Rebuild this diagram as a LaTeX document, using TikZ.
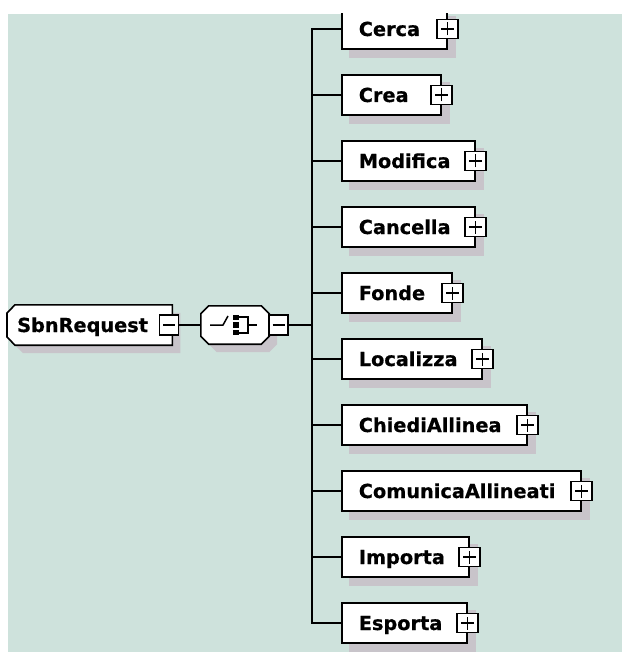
\documentclass[tikz,border=0pt]{standalone}
\usepackage{fontspec}
\setmainfont{DejaVu Sans}[BoldFeatures={FakeBold=0.6}]
\usetikzlibrary{calc}
\definecolor{canvasbg}{HTML}{CEE2DC}
\definecolor{shadegray}{HTML}{C8C4CA}
\pgfdeclarelayer{back}
\pgfdeclarelayer{shadowlayer}
\pgfdeclarelayer{body}
\pgfsetlayers{back,shadowlayer,body,main}
% fixed-width element caption: total width, left padding, text
\newcommand\elemtext[3]{\makebox[#1pt][l]{\hspace*{#2pt}#3}}

\tikzset{
  wire/.style={line width=1.6pt, draw=black},
  elemfont/.style={font=\fontsize{19.3}{22}\selectfont\bfseries},
  elem/.style={elemfont, draw=black, line width=1.6pt, fill=white, inner sep=0pt,
    minimum height=40pt, text height=14pt, text depth=0pt, anchor=west},
  caption/.style={elemfont, inner sep=0pt, minimum height=40pt, text height=14pt,
    text depth=0pt, anchor=west},
  togglebox/.style={draw=black, line width=1.4pt, fill=white, inner sep=0pt,
    minimum width=19pt, minimum height=20pt},
  plusbox/.style={togglebox, minimum width=21pt, minimum height=19pt,
    path picture={\draw[line width=1.4pt]
      ([xshift=-6.5pt]path picture bounding box.center) -- ([xshift=6.5pt]path picture bounding box.center)
      ([yshift=-6.5pt]path picture bounding box.center) -- ([yshift=6.5pt]path picture bounding box.center);}},
  minusbox/.style={togglebox,
    path picture={\draw[line width=1.4pt]
      ([xshift=-6pt]path picture bounding box.center) -- ([xshift=6pt]path picture bounding box.center);}},
}

\begin{document}
\begin{tikzpicture}[x=1pt,y=-1pt]
\useasboundingbox (0,0) rectangle (622,652);

\begin{pgfonlayer}{back}
  \fill[white] (0,0) rectangle (622,652);
  \fill[canvasbg] (8,14) rectangle (622,652);
\end{pgfonlayer}

% root element
\node[caption] (root) at (7,325) {\elemtext{165}{10}{SbnRequest}};
\begin{pgfonlayer}{shadowlayer}
  \fill[shadegray, transform canvas={shift={(8,8)}}]
    ($(root.north west)+(8,0)$) -- (root.north east) -- (root.south east) --
    ($(root.south west)+(8,0)$) -- ($(root.west)+(0,12)$) -- ($(root.west)+(0,-12)$) -- cycle;
\end{pgfonlayer}
\begin{pgfonlayer}{body}
  \filldraw[fill=white, line width=1.6pt]
    ($(root.north west)+(8,0)$) -- (root.north east) -- (root.south east) --
    ($(root.south west)+(8,0)$) -- ($(root.west)+(0,12)$) -- ($(root.west)+(0,-12)$) -- cycle;
\end{pgfonlayer}
\node[minusbox] (rm) at (169,325) {};

% sequence compositor
\node[inner sep=0pt, minimum width=68pt, minimum height=38pt] (seq) at (235,325) {};
\begin{pgfonlayer}{shadowlayer}
  \fill[shadegray, transform canvas={shift={(8,8)}}]
    ($(seq.north west)+(8,0)$) -- ($(seq.north east)+(-8,0)$) -- ($(seq.north east)+(0,8)$) --
    ($(seq.south east)+(0,-8)$) -- ($(seq.south east)+(-8,0)$) -- ($(seq.south west)+(8,0)$) --
    ($(seq.south west)+(0,-8)$) -- ($(seq.north west)+(0,8)$) -- cycle;
\end{pgfonlayer}
\begin{pgfonlayer}{body}
  \filldraw[fill=white, line width=1.6pt]
    ($(seq.north west)+(8,0)$) -- ($(seq.north east)+(-8,0)$) -- ($(seq.north east)+(0,8)$) --
    ($(seq.south east)+(0,-8)$) -- ($(seq.south east)+(-8,0)$) -- ($(seq.south west)+(8,0)$) --
    ($(seq.south west)+(0,-8)$) -- ($(seq.north west)+(0,8)$) -- cycle;
\end{pgfonlayer}
\begin{scope}[shift={(seq.center)}]
  \draw[line width=1.5pt] (-25,0) -- (-12,0) -- (-7,-9);
  \foreach \s in {-7.5,0,7.5}
    \fill (-2.5,\s-2.8) rectangle (3.5,\s+2.8);
  \draw[line width=1.5pt] (4,-8) -- (13,-8) -- (13,8) -- (4,8) (13,0) -- (22,0);
\end{scope}
\node[minusbox] (sm) at (278.5,325) {};

% child elements
\foreach \name/\right [count=\i] in {Cerca/446, Crea/440, Modifica/474, Cancella/474,
    Fonde/451, Localizza/481, ChiediAllinea/526, ComunicaAllineati/580, Importa/468, Esporta/466} {
  \pgfmathsetmacro\yy{29+66*(\i-1)}
  \pgfmathsetmacro\ww{\right-341}
  \node[elem] (c\i) at (341,\yy) {\elemtext{\ww}{17}{\name}};
  \node[plusbox] (p\i) at (c\i.east) {};
  \begin{pgfonlayer}{shadowlayer}
    \fill[shadegray] ($(c\i.north west)+(8,8)$) rectangle ($(c\i.south east)+(8,8)$);
  \end{pgfonlayer}
}

% connectors
\coordinate (tj) at (312,325);
\draw[wire] (rm.east) -- (seq.west);
\draw[wire] (sm.east) -- (tj);
\draw[wire] (c1.west) -- (c1.west -| tj) -- (c10.west -| tj) -- (c10.west);
\foreach \i in {2,...,9}
  \draw[wire] (c\i.west -| tj) -- (c\i.west);

% blank strip along the top edge
\fill[white] (0,0) rectangle (622,13);
\end{tikzpicture}
\end{document}
